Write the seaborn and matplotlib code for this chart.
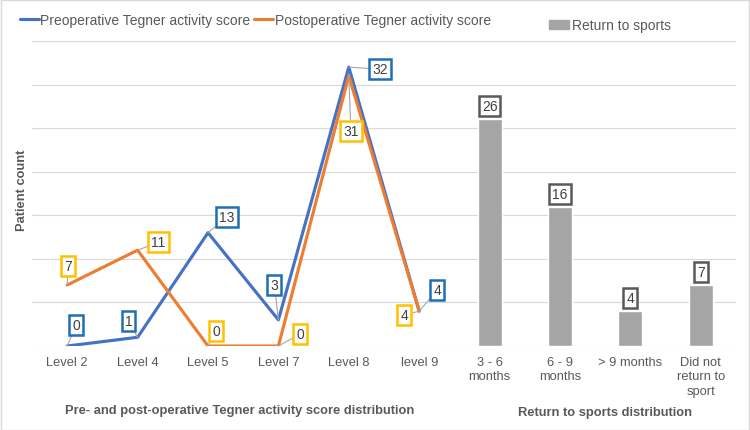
import numpy as np
import pandas as pd
import matplotlib
matplotlib.use("Agg")
import matplotlib.pyplot as plt
import seaborn as sns
from matplotlib.lines import Line2D
from matplotlib.patches import Patch, Rectangle

# ---- data ----
levels = ["Level 2", "Level 4", "Level 5", "Level 7", "Level 8", "level 9"]
pre_scores = [0, 1, 13, 3, 32, 4]
post_scores = [7, 11, 0, 0, 31, 4]
rts_categories = ["3 - 6\nmonths", "6 - 9\nmonths", "> 9 months", "Did not\nreturn to\nsport"]
rts_counts = [26, 16, 4, 7]

all_categories = levels + rts_categories

sns.set_theme(style="white")
plt.rcParams["font.family"] = ["Liberation Sans", "DejaVu Sans"]

TXT = "#595959"
BLUE = "#4472C4"
ORANGE = "#ED7D31"
GRAY = "#A5A5A5"

fig = plt.figure(figsize=(7.5, 4.31), dpi=100)
ax = fig.add_axes([32/750, 1-347/431, (736-32)/750, (347-42)/431])

# bars (categorical axis with all 10 categories)
bar_df = pd.DataFrame({"category": rts_categories, "count": rts_counts})
sns.barplot(data=bar_df, x="category", y="count", order=all_categories,
            color=GRAY, saturation=1, width=0.34, ax=ax, legend=False)

# lines
pos = np.arange(len(levels))
line_df = pd.DataFrame({"pos": np.concatenate([pos, pos]),
                        "value": pre_scores + post_scores,
                        "series": ["pre"] * len(levels) + ["post"] * len(levels)})
sns.lineplot(data=line_df, x="pos", y="value", hue="series",
             palette={"pre": BLUE, "post": ORANGE}, linewidth=2.25,
             ax=ax, legend=False, sort=False)

ax.set_xlim(-0.5, len(all_categories) - 0.5)
ax.set_ylim(0, 35)
ax.set_yticks(np.arange(0, 36, 5))
ax.set_yticklabels([])
ax.yaxis.grid(True, color="#D9D9D9", linewidth=0.8)
ax.set_axisbelow(True)
for s in ax.spines.values():
    s.set_visible(False)
ax.set_xlabel("")
ax.set_ylabel("")
ax.set_xticks(range(len(all_categories)))
ax.set_xticklabels(all_categories, fontsize=9.3, color=TXT, linespacing=1.3)
ax.tick_params(axis="x", length=0, pad=7)
ax.tick_params(axis="y", length=0)

PX = 0.72  # pixels -> points


def label(x, v, text, dx, dy, edge, leader=True):
    kw = dict(textcoords="offset points", ha="center", va="center",
              fontsize=10, color="#404040",
              bbox=dict(boxstyle="square,pad=0.22", fc="white", ec=edge, lw=1.8))
    if leader:
        kw["arrowprops"] = dict(arrowstyle="-", color="#A6A6A6", lw=0.8,
                                shrinkA=0, shrinkB=0)
    ax.annotate(text, xy=(x, v), xytext=(dx * PX, dy * PX), **kw)


pre_off = [(9, 21), (-9, 16), (19, 16), (-4, 35), (31, -2), (18, 21)]
post_off = [(1, 19), (21, 8), (8, 15), (22, 12), (2, -55), (-15, -4)]
for i, (v, (dx, dy)) in enumerate(zip(pre_scores, pre_off)):
    label(i, v, str(v), dx, dy, "#1F6FB7")
for i, (v, (dx, dy)) in enumerate(zip(post_scores, post_off)):
    label(i, v, str(v), dx, dy, "#FFC000")
for j, v in enumerate(rts_counts):
    label(len(levels) + j, v, str(v), 0, 13, "#595959", leader=False)

# legends
h_lines = [Line2D([], [], color=BLUE, lw=2.25), Line2D([], [], color=ORANGE, lw=2.25)]
fig.legend(h_lines, ["Preoperative Tegner activity score", "Postoperative Tegner activity score"],
           loc="center left", bbox_to_anchor=(7/750, 1-21/431), ncol=2, frameon=False,
           fontsize=10, handlelength=1.4, handletextpad=0.1, columnspacing=0.25,
           labelcolor=TXT)
fig.legend([Patch(color=GRAY)], ["Return to sports"],
           loc="center left", bbox_to_anchor=(536/750, 1-26/431), frameon=False,
           fontsize=10, handlelength=1.5, handleheight=0.6, handletextpad=0.2,
           labelcolor=TXT)

# axis/group titles
fig.text(22/750, 1-190/431, "Patient count", rotation=90, ha="center", va="center",
         fontsize=9.3, fontweight="bold", color=TXT)
fig.text(240/750, 1-411/431, "Pre- and post-operative Tegner activity score distribution",
         ha="center", va="center", fontsize=9.3, fontweight="bold", color=TXT)
fig.text(605/750, 1-413/431, "Return to sports distribution",
         ha="center", va="center", fontsize=9.3, fontweight="bold", color=TXT)

# figure border
fig.patches.append(Rectangle((0.001, 0.001), 0.998, 0.997, transform=fig.transFigure,
                             fill=False, ec="#D9D9D9", lw=1))

fig.savefig("out.png", dpi=100)
